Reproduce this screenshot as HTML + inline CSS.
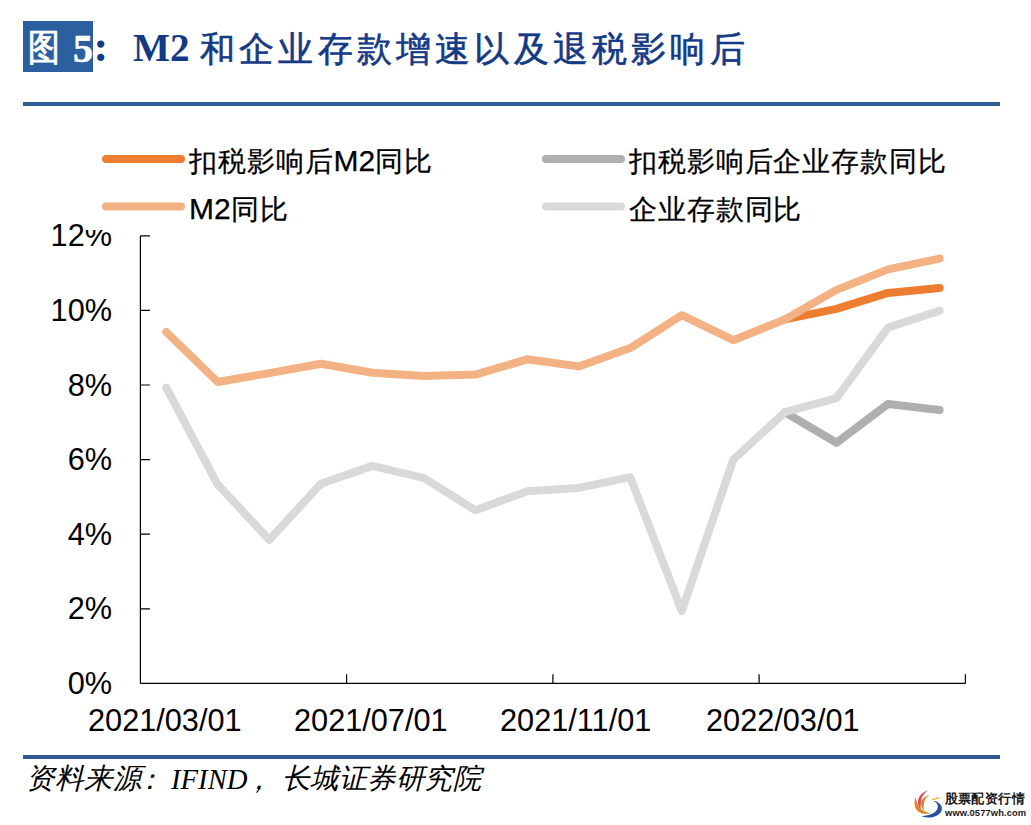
<!DOCTYPE html>
<html><head><meta charset="utf-8">
<style>
html,body{margin:0;padding:0;background:#fff;}
body{width:1031px;height:825px;position:relative;overflow:hidden;font-family:"Liberation Sans",sans-serif;}
.abs{position:absolute;white-space:nowrap;}
#fig{left:23px;top:21px;width:70px;height:51px;background:#2c5f9f;}
.serif{font-family:"Liberation Serif",serif;}
.t{font-size:39.2px;line-height:40px;color:#143a86;}
.hr{left:23px;width:977px;height:4px;background:#2e5b93;}
.leg{font-size:30px;line-height:36px;color:#000;-webkit-text-stroke:0.25px #000;}
.leg .c{font-size:28.35px;letter-spacing:0.9px;}
.ax{font-size:30.7px;line-height:36px;color:#000;}
.src{font-family:"Liberation Serif",serif;font-style:italic;font-size:28.7px;line-height:36px;color:#000;}
</style></head><body>
<div class="abs" id="fig"></div>
<div class="abs t" style="left:28px;top:28px;font-size:37px;color:#fff;-webkit-text-stroke:1px #fff;transform:scaleX(0.86);transform-origin:0 0">图</div>
<div class="abs t serif" style="left:73px;top:29px;font-size:40px;color:#fff;font-weight:bold;-webkit-text-stroke:0.6px #fff">5</div>
<div class="abs t serif" style="left:93.5px;top:25px;font-size:44px;line-height:44px;font-weight:bold">:</div>
<div class="abs t serif" style="left:133px;top:28px;font-weight:bold">M2</div>
<div class="abs t" style="left:200px;top:28.5px;font-size:35px;letter-spacing:4.2px;-webkit-text-stroke:0.6px #143a86">和企业存款增速以及退税影响后</div>
<div class="abs hr" style="top:102px"></div>

<svg class="abs" style="left:0;top:0" width="1031" height="825" viewBox="0 0 1031 825">
  <g stroke="#000" stroke-width="1.2" fill="none">
    <path d="M140.4,683.4 H965.4"/>
    <path d="M140.4,235.8 V683.4"/>
    <path d="M140.4,235.8 h9.5 M140.4,310.4 h9.5 M140.4,385.0 h9.5 M140.4,459.6 h9.5 M140.4,534.2 h9.5 M140.4,608.8 h9.5"/>
    <path d="M346.6,683.4 v-9.2 M552.9,683.4 v-9.2 M759.1,683.4 v-9.2 M965.4,683.4 v-9.2"/>
  </g>
  <g fill="none" stroke-width="8" stroke-linejoin="round" stroke-linecap="round">
    <path stroke="#afafaf" d="M784.9,412.2 L836.5,442.8 L888.0,404.0 L939.6,410.0"/>
    <path stroke="#d9d9d9" d="M166.2,387.6 L217.7,484.6 L269.3,539.8 L320.9,483.8 L372.4,465.9 L424.0,478.2 L475.5,510.3 L527.1,491.3 L578.7,487.9 L630.2,477.1 L681.8,611.0 L733.3,459.6 L784.9,412.2 L836.5,398.1 L888.0,327.6 L939.6,310.8"/>
    <path stroke="#ed7d31" d="M784.9,319.4 L836.5,308.9 L888.0,292.9 L939.6,288.0"/>
    <path stroke="#f4b183" d="M166.2,332.0 L217.7,382.0 L269.3,373.1 L320.9,363.7 L372.4,372.7 L424.0,376.0 L475.5,374.6 L527.1,359.3 L578.7,366.4 L630.2,348.1 L681.8,315.2 L733.3,340.2 L784.9,319.4 L836.5,289.9 L888.0,269.4 L939.6,258.6"/>
  </g>
</svg>

<div class="abs ax" style="right:919px;top:218px">12%</div>
<div class="abs" style="left:86px;top:120px;width:914px;height:109.8px;background:#fff"></div>

<svg class="abs" style="left:0;top:0" width="1031" height="825" viewBox="0 0 1031 825">
  <g fill="none" stroke-width="8" stroke-linecap="round">
    <path stroke="#ed7d31" d="M106,159 H181"/>
    <path stroke="#f4b183" d="M106,206.4 H181"/>
    <path stroke="#afafaf" d="M546,159 H621"/>
    <path stroke="#d9d9d9" d="M546,206.4 H621"/>
  </g>
</svg>

<div class="abs leg" style="left:189px;top:142.5px"><span class="c">扣税影响后</span>M2<span class="c">同比</span></div>
<div class="abs leg" style="left:189px;top:191px">M2<span class="c">同比</span></div>
<div class="abs leg" style="left:629px;top:142.5px"><span class="c">扣税影响后企业存款同比</span></div>
<div class="abs leg" style="left:629px;top:191px"><span class="c">企业存款同比</span></div>

<div class="abs ax" style="right:919px;top:293px">10%</div>
<div class="abs ax" style="right:919px;top:368px">8%</div>
<div class="abs ax" style="right:919px;top:442px">6%</div>
<div class="abs ax" style="right:919px;top:517px">4%</div>
<div class="abs ax" style="right:919px;top:591px">2%</div>
<div class="abs ax" style="right:919px;top:666px">0%</div>

<div class="abs ax" style="left:88px;top:703px">2021/03/01</div>
<div class="abs ax" style="left:294px;top:703px">2021/07/01</div>
<div class="abs ax" style="left:500px;top:703px">2021/11/01</div>
<div class="abs ax" style="left:706px;top:703px">2022/03/01</div>

<div class="abs hr" style="top:755px"></div>
<div class="abs src" style="left:25.5px;top:761px;font-size:28.5px">资料来源</div>
<div class="abs src" style="left:134.5px;top:761px">：</div>
<div class="abs src" style="left:171px;top:761px">IFIND</div>
<div class="abs src" style="left:244px;top:761px">，</div>
<div class="abs src" style="left:282px;top:761px;font-size:28.3px;letter-spacing:0.45px">长城证券研究院</div>
<svg class="abs" style="left:0;top:0" width="1031" height="825" viewBox="0 0 1031 825">
  <path fill="#de4a5c" d="M928.5,790 C922,792 917.5,797 918,803 C918.3,806 919.2,808 920.5,809.5 C920.8,806 920.5,803 921.2,800 C922.5,795 925,792 928.5,790 Z"/>
  <path fill="#e0802a" d="M929.5,795 C925,796 921,799.5 921,804 C921,807 922.5,809 924,810.5 C923.5,807 923.5,804 924.5,801 C925.5,798 927,796.5 929.5,795 Z"/>
  <path fill="#e28325" d="M915.5,797 C913.5,803 914.5,809 919,812 C922,814 926,814.2 931,813.5 C927,812.5 923,811 920.5,808.5 C918,806 916.5,802 915.5,797 Z"/>
  <path fill="#24539a" d="M932.5,800.8 C937,801 941,803.5 941.8,807.5 C942.5,812 938.5,816 932.5,817.2 C929,817.8 925,817.5 921.5,816.3 C926,815.8 931.5,814.5 935,812 C938,809.5 938.5,806 937,803.8 C936,802.3 934.5,801.3 932.5,800.8 Z"/>
  <path stroke="#f0b43c" stroke-width="1.5" stroke-linecap="round" d="M932.4,799.6 L938.4,797.8"/>
</svg>
<div class="abs" style="left:944.5px;top:791px;font-size:13.3px;letter-spacing:0.45px;line-height:16px;font-weight:bold;color:#1a1a1a">股票配资行情</div>
<div class="abs" style="left:945px;top:807px;font-size:9.4px;line-height:12px;font-weight:bold;color:#1a1a1a;letter-spacing:0.1px">www.0577wh.com</div>
</body></html>
